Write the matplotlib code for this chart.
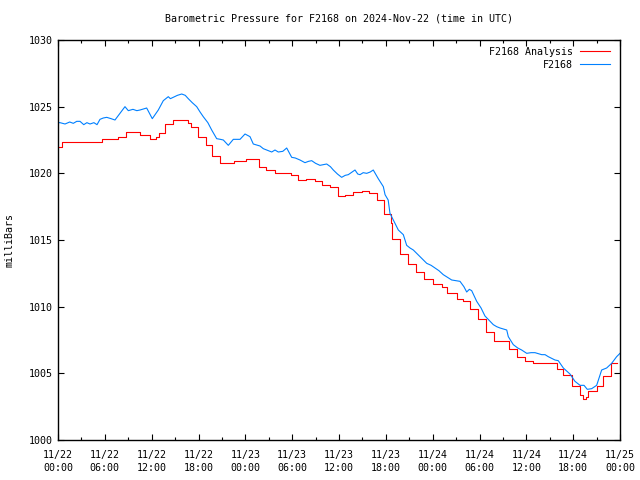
import matplotlib
matplotlib.use("Agg")
import matplotlib.pyplot as plt
from matplotlib.ticker import MultipleLocator, FixedLocator

# hours since 2024-11-22 00:00 UTC, pressure in mb
obs_hours = [0.0, 0.26, 0.9, 1.5, 1.96, 2.4, 2.82, 3.3, 3.7, 4.1, 4.6, 5.0, 5.38, 5.8, 6.24, 6.8,
             7.3, 7.94, 8.58, 9.01, 9.6, 10.1, 10.51, 11.36, 12.08, 12.85, 13.49, 14.13, 14.4,
             14.77, 15.3, 15.85, 16.3, 16.69, 17.2, 17.77, 18.2, 18.61, 19.2, 19.69, 20.33, 20.8,
             21.18, 21.82, 22.46, 23.32, 23.96, 24.6, 25.02, 25.88, 26.3, 26.74, 27.38, 27.8,
             28.22, 28.8, 29.3, 29.94, 30.4, 31.0, 31.64, 32.1, 32.5, 33.0, 33.56, 34.42, 34.9,
             35.27, 35.8, 36.34, 36.8, 37.19, 38.05, 38.4, 38.69, 39.1, 39.55, 40.0, 40.39,
             41.03, 41.68, 41.9, 42.3, 42.53, 42.96, 43.6, 44.24, 44.67, 45.1, 45.52, 46.38,
             46.8, 47.24, 47.8, 48.3, 48.8, 49.36, 49.9, 50.44, 51.0, 51.5, 52.0, 52.36, 52.7,
             53.0, 53.64, 54.2, 54.7, 55.2, 55.77, 56.2, 56.63, 57.49, 57.69, 58.33, 58.9, 59.4,
             60.05, 60.6, 61.11, 61.97, 62.4, 62.81, 63.67, 64.09, 64.74, 65.59, 66.23, 66.88,
             67.39, 67.81, 68.37, 69.01, 69.65, 70.29, 70.93, 71.57, 72.0]
obs_mb = [1023.8, 1023.8, 1023.7, 1023.85, 1023.75, 1023.9, 1023.9, 1023.65, 1023.8, 1023.7,
          1023.8, 1023.65, 1024.05, 1024.15, 1024.2, 1024.1, 1024.0, 1024.5, 1025.0, 1024.7,
          1024.8, 1024.7, 1024.75, 1024.9, 1024.1, 1024.75, 1025.45, 1025.75, 1025.6, 1025.7,
          1025.85, 1025.95, 1025.85, 1025.6, 1025.3, 1025.0, 1024.6, 1024.25, 1023.8, 1023.25,
          1022.6, 1022.55, 1022.5, 1022.1, 1022.55, 1022.55, 1022.95, 1022.75, 1022.2, 1022.05,
          1021.85, 1021.75, 1021.6, 1021.75, 1021.6, 1021.65, 1021.9, 1021.2, 1021.15, 1021.0,
          1020.8, 1020.9, 1020.95, 1020.75, 1020.6, 1020.7, 1020.5, 1020.25, 1019.95, 1019.7,
          1019.85, 1019.9, 1020.25, 1019.95, 1019.9, 1020.05, 1020.0, 1020.1, 1020.25, 1019.6,
          1019.0, 1018.4, 1018.0, 1017.0, 1016.5, 1015.75, 1015.4, 1014.6, 1014.4, 1014.25,
          1013.75, 1013.5, 1013.25, 1013.1, 1012.9, 1012.7, 1012.4, 1012.2, 1012.0, 1011.95,
          1011.9, 1011.5, 1011.1, 1011.3, 1011.2, 1010.4, 1009.9, 1009.3, 1009.0, 1008.65,
          1008.5, 1008.4, 1008.25, 1007.75, 1007.15, 1006.9, 1006.75, 1006.5, 1006.55, 1006.55,
          1006.4, 1006.4, 1006.25, 1006.0, 1005.95, 1005.4, 1004.95, 1004.4, 1004.1, 1004.1,
          1003.8, 1003.85, 1004.1, 1005.25, 1005.4, 1005.75, 1006.25, 1006.5]

ana_hours = [0.0, 0.45, 5.6, 7.7, 8.7, 10.5, 11.8, 12.6, 13.0, 13.75, 14.7, 16.7, 17.1, 17.9,
             18.9, 19.7, 20.7, 22.6, 24.1, 25.75, 26.7, 27.8, 29.9, 30.8, 31.8, 32.9, 33.8,
             34.85, 35.9, 36.8, 37.85, 38.9, 39.85, 40.85, 41.8, 42.66, 42.85, 43.8, 44.9, 45.85,
             46.9, 48.0, 49.15, 49.85, 51.1, 51.9, 52.8, 53.85, 54.85, 55.85, 57.8, 58.75, 59.8,
             60.9, 61.75, 63.9, 64.65, 65.8, 66.9, 67.2, 67.7, 67.95, 69.0, 69.85, 70.8, 71.65]
ana_mb = [1022.0, 1022.35, 1022.6, 1022.7, 1023.1, 1022.9, 1022.6, 1022.75, 1023.05, 1023.7,
          1024.0, 1023.8, 1023.45, 1022.7, 1022.1, 1021.3, 1020.75, 1020.9, 1021.05, 1020.5,
          1020.25, 1020.05, 1019.9, 1019.5, 1019.55, 1019.4, 1019.1, 1019.0, 1018.3, 1018.4,
          1018.6, 1018.7, 1018.55, 1018.0, 1016.95, 1016.3, 1015.1, 1013.95, 1013.2, 1012.6,
          1012.05, 1011.7, 1011.5, 1011.05, 1010.55, 1010.4, 1009.8, 1009.1, 1008.1, 1007.4,
          1006.85, 1006.2, 1005.9, 1005.75, 1005.8, 1005.3, 1004.9, 1004.05, 1003.4, 1003.1,
          1003.2, 1003.7, 1004.05, 1004.8, 1005.8, 1005.8]

tick_hours = list(range(0, 73, 6))
tick_labels = ["11/22\n00:00", "11/22\n06:00", "11/22\n12:00", "11/22\n18:00",
               "11/23\n00:00", "11/23\n06:00", "11/23\n12:00", "11/23\n18:00",
               "11/24\n00:00", "11/24\n06:00", "11/24\n12:00", "11/24\n18:00",
               "11/25\n00:00"]

plt.rcParams['font.family'] = ['DejaVu Sans Mono']
plt.rcParams['font.size'] = 7.2

fig = plt.figure(figsize=(6.4, 4.8), dpi=100)
ax = fig.add_axes([58/640, 40/480, 562/640, 400/480])

ax.plot(ana_hours, ana_mb, color="#ff0000", lw=0.8, drawstyle="steps-post", label="F2168 Analysis")
ax.plot(obs_hours, obs_mb, color="#0080ff", lw=0.8, label="F2168")

ax.set_xlim(0, 72)
ax.set_ylim(1000, 1030)
ax.xaxis.set_major_locator(FixedLocator(tick_hours))
ax.set_xticklabels(tick_labels, linespacing=1.4)
ax.xaxis.set_minor_locator(MultipleLocator(3))
ax.yaxis.set_major_locator(MultipleLocator(5))
ax.tick_params(which="both", direction="in", top=True, right=True, width=0.8, color="black")
ax.tick_params(which="major", length=4)
ax.tick_params(axis="x", which="major", pad=7)
ax.tick_params(axis="y", which="major", pad=4)
ax.tick_params(which="minor", length=2)
for s in ax.spines.values():
    s.set_linewidth(1.0)

ax.set_ylabel("milliBars", labelpad=10)
ax.set_title("Barometric Pressure for F2168 on 2024-Nov-22 (time in UTC)", fontsize=7.2, pad=13)

ax.legend(loc="upper right", bbox_to_anchor=(0.995, 1.0), frameon=False, markerfirst=False,
          handlelength=3.0, handletextpad=0.7, labelspacing=0.3, borderaxespad=0.3)

fig.savefig("out.png", dpi=100)
